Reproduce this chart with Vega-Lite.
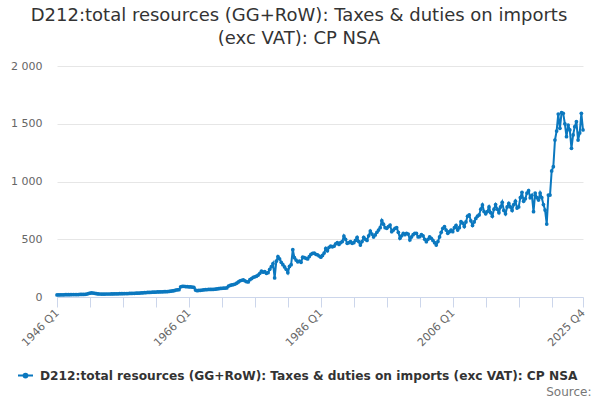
{
  "$schema": "https://vega.github.io/schema/vega-lite/v6.json",
  "width": 526,
  "height": 231,
  "autosize": {"type": "none"},
  "padding": {"left": 57, "top": 66, "right": 17, "bottom": 103},
  "background": "white",
  "title": {
    "text": ["D212:total resources (GG+RoW): Taxes & duties on imports", "(exc VAT): CP NSA"],
    "font": "DejaVu Sans",
    "fontSize": 18,
    "fontWeight": "normal",
    "color": "#333333",
    "anchor": "middle",
    "dx": -21,
    "offset": 12,
    "lineHeight": 23
  },
  "data": {
    "values": [
      {"q": "1946 Q1", "v": 18}, {"q": "1946 Q2", "v": 18}, {"q": "1946 Q3", "v": 19}, {"q": "1946 Q4", "v": 19},
      {"q": "1947 Q1", "v": 19}, {"q": "1947 Q2", "v": 20}, {"q": "1947 Q3", "v": 20}, {"q": "1947 Q4", "v": 20},
      {"q": "1948 Q1", "v": 20}, {"q": "1948 Q2", "v": 21}, {"q": "1948 Q3", "v": 21}, {"q": "1948 Q4", "v": 21},
      {"q": "1949 Q1", "v": 21}, {"q": "1949 Q2", "v": 21}, {"q": "1949 Q3", "v": 22}, {"q": "1949 Q4", "v": 22},
      {"q": "1950 Q1", "v": 22}, {"q": "1950 Q2", "v": 23}, {"q": "1950 Q3", "v": 25}, {"q": "1950 Q4", "v": 30},
      {"q": "1951 Q1", "v": 33}, {"q": "1951 Q2", "v": 35}, {"q": "1951 Q3", "v": 34}, {"q": "1951 Q4", "v": 32},
      {"q": "1952 Q1", "v": 29}, {"q": "1952 Q2", "v": 27}, {"q": "1952 Q3", "v": 26}, {"q": "1952 Q4", "v": 25},
      {"q": "1953 Q1", "v": 25}, {"q": "1953 Q2", "v": 25}, {"q": "1953 Q3", "v": 26}, {"q": "1953 Q4", "v": 26},
      {"q": "1954 Q1", "v": 26}, {"q": "1954 Q2", "v": 27}, {"q": "1954 Q3", "v": 27}, {"q": "1954 Q4", "v": 28},
      {"q": "1955 Q1", "v": 28}, {"q": "1955 Q2", "v": 28}, {"q": "1955 Q3", "v": 29}, {"q": "1955 Q4", "v": 29},
      {"q": "1956 Q1", "v": 29}, {"q": "1956 Q2", "v": 30}, {"q": "1956 Q3", "v": 30}, {"q": "1956 Q4", "v": 30},
      {"q": "1957 Q1", "v": 31}, {"q": "1957 Q2", "v": 31}, {"q": "1957 Q3", "v": 32}, {"q": "1957 Q4", "v": 32},
      {"q": "1958 Q1", "v": 33}, {"q": "1958 Q2", "v": 33}, {"q": "1958 Q3", "v": 34}, {"q": "1958 Q4", "v": 35},
      {"q": "1959 Q1", "v": 36}, {"q": "1959 Q2", "v": 37}, {"q": "1959 Q3", "v": 38}, {"q": "1959 Q4", "v": 39},
      {"q": "1960 Q1", "v": 40}, {"q": "1960 Q2", "v": 41}, {"q": "1960 Q3", "v": 42}, {"q": "1960 Q4", "v": 42},
      {"q": "1961 Q1", "v": 43}, {"q": "1961 Q2", "v": 44}, {"q": "1961 Q3", "v": 44}, {"q": "1961 Q4", "v": 45},
      {"q": "1962 Q1", "v": 45}, {"q": "1962 Q2", "v": 46}, {"q": "1962 Q3", "v": 46}, {"q": "1962 Q4", "v": 47},
      {"q": "1963 Q1", "v": 48}, {"q": "1963 Q2", "v": 50}, {"q": "1963 Q3", "v": 52}, {"q": "1963 Q4", "v": 55},
      {"q": "1964 Q1", "v": 60}, {"q": "1964 Q2", "v": 62}, {"q": "1964 Q3", "v": 63}, {"q": "1964 Q4", "v": 88},
      {"q": "1965 Q1", "v": 92}, {"q": "1965 Q2", "v": 92}, {"q": "1965 Q3", "v": 90}, {"q": "1965 Q4", "v": 89},
      {"q": "1966 Q1", "v": 88}, {"q": "1966 Q2", "v": 87}, {"q": "1966 Q3", "v": 86}, {"q": "1966 Q4", "v": 84},
      {"q": "1967 Q1", "v": 60}, {"q": "1967 Q2", "v": 55}, {"q": "1967 Q3", "v": 57}, {"q": "1967 Q4", "v": 58},
      {"q": "1968 Q1", "v": 60}, {"q": "1968 Q2", "v": 62}, {"q": "1968 Q3", "v": 63}, {"q": "1968 Q4", "v": 64},
      {"q": "1969 Q1", "v": 65}, {"q": "1969 Q2", "v": 66}, {"q": "1969 Q3", "v": 66}, {"q": "1969 Q4", "v": 67},
      {"q": "1970 Q1", "v": 68}, {"q": "1970 Q2", "v": 70}, {"q": "1970 Q3", "v": 72}, {"q": "1970 Q4", "v": 74},
      {"q": "1971 Q1", "v": 75}, {"q": "1971 Q2", "v": 76}, {"q": "1971 Q3", "v": 77}, {"q": "1971 Q4", "v": 78},
      {"q": "1972 Q1", "v": 95}, {"q": "1972 Q2", "v": 100}, {"q": "1972 Q3", "v": 104}, {"q": "1972 Q4", "v": 108},
      {"q": "1973 Q1", "v": 112}, {"q": "1973 Q2", "v": 120}, {"q": "1973 Q3", "v": 130}, {"q": "1973 Q4", "v": 140},
      {"q": "1974 Q1", "v": 145}, {"q": "1974 Q2", "v": 148}, {"q": "1974 Q3", "v": 140}, {"q": "1974 Q4", "v": 132},
      {"q": "1975 Q1", "v": 130}, {"q": "1975 Q2", "v": 150}, {"q": "1975 Q3", "v": 160}, {"q": "1975 Q4", "v": 170},
      {"q": "1976 Q1", "v": 175}, {"q": "1976 Q2", "v": 180}, {"q": "1976 Q3", "v": 190}, {"q": "1976 Q4", "v": 205},
      {"q": "1977 Q1", "v": 225}, {"q": "1977 Q2", "v": 215}, {"q": "1977 Q3", "v": 220}, {"q": "1977 Q4", "v": 205},
      {"q": "1978 Q1", "v": 210}, {"q": "1978 Q2", "v": 240}, {"q": "1978 Q3", "v": 262}, {"q": "1978 Q4", "v": 290},
      {"q": "1979 Q1", "v": 165}, {"q": "1979 Q2", "v": 310}, {"q": "1979 Q3", "v": 350}, {"q": "1979 Q4", "v": 330},
      {"q": "1980 Q1", "v": 300}, {"q": "1980 Q2", "v": 280}, {"q": "1980 Q3", "v": 260}, {"q": "1980 Q4", "v": 240},
      {"q": "1981 Q1", "v": 210}, {"q": "1981 Q2", "v": 265}, {"q": "1981 Q3", "v": 280}, {"q": "1981 Q4", "v": 410},
      {"q": "1982 Q1", "v": 340}, {"q": "1982 Q2", "v": 320}, {"q": "1982 Q3", "v": 305}, {"q": "1982 Q4", "v": 310},
      {"q": "1983 Q1", "v": 300}, {"q": "1983 Q2", "v": 345}, {"q": "1983 Q3", "v": 340}, {"q": "1983 Q4", "v": 335},
      {"q": "1984 Q1", "v": 330}, {"q": "1984 Q2", "v": 350}, {"q": "1984 Q3", "v": 370}, {"q": "1984 Q4", "v": 378},
      {"q": "1985 Q1", "v": 380}, {"q": "1985 Q2", "v": 370}, {"q": "1985 Q3", "v": 365}, {"q": "1985 Q4", "v": 355},
      {"q": "1986 Q1", "v": 345}, {"q": "1986 Q2", "v": 360}, {"q": "1986 Q3", "v": 380}, {"q": "1986 Q4", "v": 420},
      {"q": "1987 Q1", "v": 400}, {"q": "1987 Q2", "v": 430}, {"q": "1987 Q3", "v": 440}, {"q": "1987 Q4", "v": 435},
      {"q": "1988 Q1", "v": 440}, {"q": "1988 Q2", "v": 460}, {"q": "1988 Q3", "v": 470}, {"q": "1988 Q4", "v": 455},
      {"q": "1989 Q1", "v": 470}, {"q": "1989 Q2", "v": 480}, {"q": "1989 Q3", "v": 528}, {"q": "1989 Q4", "v": 500},
      {"q": "1990 Q1", "v": 465}, {"q": "1990 Q2", "v": 470}, {"q": "1990 Q3", "v": 480}, {"q": "1990 Q4", "v": 465},
      {"q": "1991 Q1", "v": 470}, {"q": "1991 Q2", "v": 490}, {"q": "1991 Q3", "v": 517}, {"q": "1991 Q4", "v": 480},
      {"q": "1992 Q1", "v": 450}, {"q": "1992 Q2", "v": 480}, {"q": "1992 Q3", "v": 517}, {"q": "1992 Q4", "v": 500},
      {"q": "1993 Q1", "v": 490}, {"q": "1993 Q2", "v": 530}, {"q": "1993 Q3", "v": 571}, {"q": "1993 Q4", "v": 545},
      {"q": "1994 Q1", "v": 520}, {"q": "1994 Q2", "v": 537}, {"q": "1994 Q3", "v": 560}, {"q": "1994 Q4", "v": 580},
      {"q": "1995 Q1", "v": 600}, {"q": "1995 Q2", "v": 661}, {"q": "1995 Q3", "v": 630}, {"q": "1995 Q4", "v": 600},
      {"q": "1996 Q1", "v": 595}, {"q": "1996 Q2", "v": 610}, {"q": "1996 Q3", "v": 623}, {"q": "1996 Q4", "v": 566},
      {"q": "1997 Q1", "v": 580}, {"q": "1997 Q2", "v": 595}, {"q": "1997 Q3", "v": 600}, {"q": "1997 Q4", "v": 560},
      {"q": "1998 Q1", "v": 508}, {"q": "1998 Q2", "v": 530}, {"q": "1998 Q3", "v": 551}, {"q": "1998 Q4", "v": 540},
      {"q": "1999 Q1", "v": 551}, {"q": "1999 Q2", "v": 545}, {"q": "1999 Q3", "v": 494}, {"q": "1999 Q4", "v": 520},
      {"q": "2000 Q1", "v": 540}, {"q": "2000 Q2", "v": 551}, {"q": "2000 Q3", "v": 550}, {"q": "2000 Q4", "v": 520},
      {"q": "2001 Q1", "v": 522}, {"q": "2001 Q2", "v": 540}, {"q": "2001 Q3", "v": 530}, {"q": "2001 Q4", "v": 500},
      {"q": "2002 Q1", "v": 479}, {"q": "2002 Q2", "v": 500}, {"q": "2002 Q3", "v": 520}, {"q": "2002 Q4", "v": 508},
      {"q": "2003 Q1", "v": 490}, {"q": "2003 Q2", "v": 470}, {"q": "2003 Q3", "v": 450}, {"q": "2003 Q4", "v": 480},
      {"q": "2004 Q1", "v": 520}, {"q": "2004 Q2", "v": 560}, {"q": "2004 Q3", "v": 595}, {"q": "2004 Q4", "v": 609},
      {"q": "2005 Q1", "v": 580}, {"q": "2005 Q2", "v": 551}, {"q": "2005 Q3", "v": 565}, {"q": "2005 Q4", "v": 580},
      {"q": "2006 Q1", "v": 566}, {"q": "2006 Q2", "v": 600}, {"q": "2006 Q3", "v": 620}, {"q": "2006 Q4", "v": 580},
      {"q": "2007 Q1", "v": 600}, {"q": "2007 Q2", "v": 652}, {"q": "2007 Q3", "v": 640}, {"q": "2007 Q4", "v": 610},
      {"q": "2008 Q1", "v": 650}, {"q": "2008 Q2", "v": 700}, {"q": "2008 Q3", "v": 710}, {"q": "2008 Q4", "v": 660},
      {"q": "2009 Q1", "v": 620}, {"q": "2009 Q2", "v": 650}, {"q": "2009 Q3", "v": 680}, {"q": "2009 Q4", "v": 700},
      {"q": "2010 Q1", "v": 710}, {"q": "2010 Q2", "v": 760}, {"q": "2010 Q3", "v": 797}, {"q": "2010 Q4", "v": 740},
      {"q": "2011 Q1", "v": 720}, {"q": "2011 Q2", "v": 740}, {"q": "2011 Q3", "v": 780}, {"q": "2011 Q4", "v": 730},
      {"q": "2012 Q1", "v": 700}, {"q": "2012 Q2", "v": 760}, {"q": "2012 Q3", "v": 800}, {"q": "2012 Q4", "v": 760},
      {"q": "2013 Q1", "v": 730}, {"q": "2013 Q2", "v": 780}, {"q": "2013 Q3", "v": 820}, {"q": "2013 Q4", "v": 750},
      {"q": "2014 Q1", "v": 720}, {"q": "2014 Q2", "v": 780}, {"q": "2014 Q3", "v": 810}, {"q": "2014 Q4", "v": 780},
      {"q": "2015 Q1", "v": 750}, {"q": "2015 Q2", "v": 800}, {"q": "2015 Q3", "v": 830}, {"q": "2015 Q4", "v": 770},
      {"q": "2016 Q1", "v": 780}, {"q": "2016 Q2", "v": 860}, {"q": "2016 Q3", "v": 906}, {"q": "2016 Q4", "v": 830},
      {"q": "2017 Q1", "v": 850}, {"q": "2017 Q2", "v": 900}, {"q": "2017 Q3", "v": 920}, {"q": "2017 Q4", "v": 860},
      {"q": "2018 Q1", "v": 880}, {"q": "2018 Q2", "v": 739}, {"q": "2018 Q3", "v": 900}, {"q": "2018 Q4", "v": 860},
      {"q": "2019 Q1", "v": 840}, {"q": "2019 Q2", "v": 900}, {"q": "2019 Q3", "v": 860}, {"q": "2019 Q4", "v": 800},
      {"q": "2020 Q1", "v": 753}, {"q": "2020 Q2", "v": 632}, {"q": "2020 Q3", "v": 883}, {"q": "2020 Q4", "v": 883},
      {"q": "2021 Q1", "v": 1091}, {"q": "2021 Q2", "v": 1128}, {"q": "2021 Q3", "v": 1359}, {"q": "2021 Q4", "v": 1437},
      {"q": "2022 Q1", "v": 1584}, {"q": "2022 Q2", "v": 1460}, {"q": "2022 Q3", "v": 1596}, {"q": "2022 Q4", "v": 1590},
      {"q": "2023 Q1", "v": 1500}, {"q": "2023 Q2", "v": 1388}, {"q": "2023 Q3", "v": 1489}, {"q": "2023 Q4", "v": 1446},
      {"q": "2024 Q1", "v": 1287}, {"q": "2024 Q2", "v": 1403}, {"q": "2024 Q3", "v": 1475}, {"q": "2024 Q4", "v": 1518},
      {"q": "2025 Q1", "v": 1359}, {"q": "2025 Q2", "v": 1420}, {"q": "2025 Q3", "v": 1590}, {"q": "2025 Q4", "v": 1446}
    ]
  },
  "mark": {
    "type": "line",
    "strokeWidth": 2,
    "point": {"filled": true, "size": 14}
  },
  "encoding": {
    "x": {
      "field": "q",
      "type": "ordinal",
      "sort": null,
      "scale": {"type": "point", "padding": 0},
      "axis": {
        "title": "Source:",
        "titleFont": "DejaVu Sans",
        "titleFontSize": 12,
        "titleFontWeight": "normal",
        "titleColor": "#777777",
        "titleAnchor": "end",
        "titleAlign": "right",
        "titleX": 534,
        "titleY": 89,
        "values": ["1946 Q1", "1951 Q1", "1956 Q1", "1961 Q1", "1966 Q1", "1971 Q1", "1976 Q1", "1981 Q1", "1986 Q1", "1991 Q1", "1996 Q1", "2001 Q1", "2006 Q1", "2011 Q1", "2016 Q1", "2021 Q1", "2025 Q4"],
        "labelExpr": "indexof(['1946 Q1', '1966 Q1', '1986 Q1', '2006 Q1', '2025 Q4'], datum.value) >= 0 ? datum.value : ''",
        "labelAngle": -45,
        "labelAlign": "right",
        "labelBaseline": "middle",
        "labelPadding": 4,
        "labelFont": "DejaVu Sans",
        "labelFontSize": 11,
        "labelColor": "#666666",
        "labelOverlap": false,
        "domainColor": "#ccd6eb",
        "tickColor": "#ccd6eb",
        "tickSize": 10,
        "grid": false
      }
    },
    "y": {
      "field": "v",
      "type": "quantitative",
      "scale": {"domain": [0, 2000], "nice": false},
      "axis": {
        "title": null,
        "values": [0, 500, 1000, 1500, 2000],
        "labelExpr": "replace(format(datum.value, ','), ',', ' ')",
        "labelFont": "DejaVu Sans",
        "labelFontSize": 11,
        "labelColor": "#666666",
        "labelPadding": 15,
        "ticks": false,
        "tickSize": 0,
        "domain": false,
        "gridColor": "#e6e6e6"
      }
    },
    "color": {
      "datum": "D212:total resources (GG+RoW): Taxes & duties on imports (exc VAT): CP NSA",
      "type": "nominal",
      "scale": {"range": ["#0b78bf"]},
      "legend": {
        "title": null,
        "orient": "none",
        "legendX": -40,
        "legendY": 301,
        "padding": 0,
        "symbolType": "M-1,0H1M-0.25,0a0.25,0.25 0 1,0 0.5,0a0.25,0.25 0 1,0 -0.5,0",
        "symbolSize": 225,
        "symbolStrokeWidth": 2,
        "symbolFillColor": "#0b78bf",
        "symbolStrokeColor": "#0b78bf",
        "labelFont": "DejaVu Sans",
        "labelFontSize": 12.2,
        "labelFontWeight": "bold",
        "labelColor": "#333333",
        "labelLimit": 600,
        "labelOffset": 6
      }
    }
  },
  "config": {
    "font": "DejaVu Sans",
    "view": {"stroke": null}
  }
}
